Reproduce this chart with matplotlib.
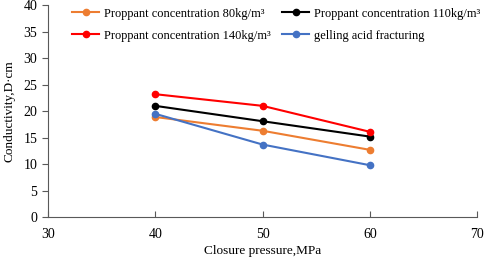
import matplotlib.pyplot as plt

plt.rcParams['font.family'] = ['Liberation Serif', 'DejaVu Serif']

pressure = [40, 50, 60]
c80 = [18.9, 16.3, 12.7]
c110 = [21.0, 18.1, 15.2]
c140 = [23.2, 21.0, 16.1]
gelling = [19.5, 13.7, 9.8]

series = [
    ("Proppant concentration 80kg/m\u00b3", c80, '#ED7D31'),
    ("Proppant concentration 110kg/m\u00b3", c110, '#000000'),
    ("Proppant concentration 140kg/m\u00b3", c140, '#FF0000'),
    ("gelling acid fracturing", gelling, '#4472C4'),
]

fig = plt.figure(figsize=(4.84, 2.57), dpi=100)
ax = fig.add_axes([0.099, 0.155, 0.887, 0.825])

handles = {}
for label, vals, col in series:
    h, = ax.plot(pressure, vals, color=col, lw=1.5, marker='o', ms=4.5, label=label)
    handles[label] = h

ax.set_xlim(30, 70)
ax.set_ylim(0, 40)
ax.set_xticks([30, 40, 50, 60, 70])
ax.set_yticks(range(0, 41, 5))
ax.spines['top'].set_visible(False)
ax.spines['right'].set_visible(False)
for s in ('left', 'bottom'):
    ax.spines[s].set_color('#595959')
    ax.spines[s].set_linewidth(0.8)
ax.tick_params(axis='x', direction='in', length=4, color='#595959', labelsize=10, pad=8)
ax.tick_params(axis='y', direction='out', length=4, color='#595959', labelsize=10)

ax.set_xlabel("Closure pressure,MPa", fontsize=9.5, labelpad=3)
ax.set_ylabel("Conductivity,D\u00b7cm", fontsize=9.5, labelpad=6)

# matplotlib fills legend columns first; reorder so rows read like the original
labels = [s[0] for s in series]
order = [labels[0], labels[2], labels[1], labels[3]]
ax.legend([handles[l] for l in order], order, loc='upper left',
          bbox_to_anchor=(0.03, 1.04), ncol=2, frameon=False,
          fontsize=8.9, handlelength=2.2, columnspacing=0.9, handletextpad=0.4,
          labelspacing=0.8)

fig.savefig('out.png', dpi=100)
